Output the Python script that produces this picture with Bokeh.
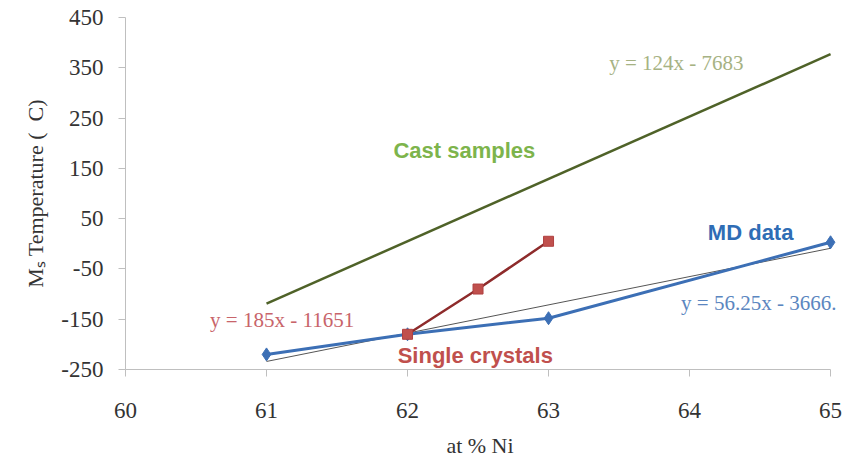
from bokeh.plotting import figure
from bokeh.models import Range1d, FixedTicker, Label, PrintfTickFormatter
from bokeh.embed import file_html
from bokeh.resources import INLINE

# ---- data ----
x_ticks = [60, 61, 62, 63, 64, 65]
y_ticks = [-250, -150, -50, 50, 150, 250, 350, 450]

cast_x = [61, 65]
cast_y = [-119, 377]

single_x = [62, 62.5, 63]
single_y = [-180, -90, 5]

md_x = [61, 62, 63, 65]
md_y = [-220, -180, -148, 3]

md_trend_x = [61, 65]
md_trend_y = [-234, -9]

annotations = [
    # text, x, y, color, bold
    ("y = 124x - 7683", 63.43, 360, "#a6b283", False),
    ("Cast samples", 61.90, 186, "#7db44c", True),
    ("MD data", 64.13, 23, "#2f6db5", True),
    ("y = 56.25x - 3666.", 63.94, -117, "#5b86c0", False),
    ("y = 185x - 11651", 60.60, -152, "#c8646a", False),
    ("Single crystals", 61.93, -222, "#c0504d", True),
]

SERIF = "Liberation Serif"
SANS = "Liberation Sans"

# frame extends a little past 65 so the right-hand equation is not clipped;
# the axis itself is bounded to 60..65
p = figure(width=858, height=463, output_backend="svg", toolbar_location=None,
           x_range=Range1d(60, 65.184), y_range=Range1d(-250, 450),
           min_border_left=125, min_border_right=2, min_border_top=17,
           min_border_bottom=94)
p.outline_line_color = None
p.xgrid.visible = False
p.ygrid.visible = False
p.background_fill_color = "white"
p.border_fill_color = "white"

for ax in (p.xaxis[0], p.yaxis[0]):
    ax.axis_line_color = "#bfbfbf"
    ax.major_tick_line_color = "#bfbfbf"
    ax.minor_tick_line_color = None
    ax.major_tick_in = 0
    ax.major_tick_out = 7
    ax.major_label_text_font = SERIF
    ax.major_label_text_font_size = "23px"
    ax.major_label_text_color = "#333333"
    ax.axis_label_text_font = SERIF
    ax.axis_label_text_font_size = "22px"
    ax.axis_label_text_font_style = "normal"
    ax.axis_label_text_color = "#333333"
    ax.formatter = PrintfTickFormatter(format="%d")

p.xaxis.bounds = (60, 65)
p.xaxis.ticker = FixedTicker(ticks=x_ticks)
p.yaxis.ticker = FixedTicker(ticks=y_ticks)
# trailing no-break spaces shift the centred label back over the 60..65 axis
p.xaxis.axis_label = "at % Ni" + "\u00a0" * 4
p.yaxis.axis_label = "M\u209b Temperature (\u00a0\u00a0C)"
p.yaxis.major_label_standoff = 15
p.yaxis.axis_label_standoff = 10
p.xaxis.major_label_standoff = 26
p.xaxis.axis_label_standoff = 12

# cast samples line (green)
p.line(cast_x, cast_y, line_color="#4f6228", line_width=2.5)

# MD trendline (thin dark)
p.line(md_trend_x, md_trend_y, line_color="#555555", line_width=1)

# MD data (blue)
p.line(md_x, md_y, line_color="#3c6fb5", line_width=3)
p.scatter(md_x, md_y, marker="diamond", size=13, fill_color="#3c6fb5",
          line_color="#3c6fb5")

# single crystals (red)
p.line(single_x, single_y, line_color="#8e2b2b", line_width=2.5)
p.scatter(single_x, single_y, marker="square", size=10, fill_color="#c0504d",
          line_color="#b04040")

for text, x, y, color, bold in annotations:
    p.add_layout(Label(x=x, y=y, text=text, text_color=color,
                       text_font=SANS if bold else SERIF,
                       text_font_size="22px" if bold else "21px",
                       text_font_style="bold" if bold else "normal",
                       text_align="left", text_baseline="middle"))

open("out.html", "w").write(file_html(p, INLINE))
